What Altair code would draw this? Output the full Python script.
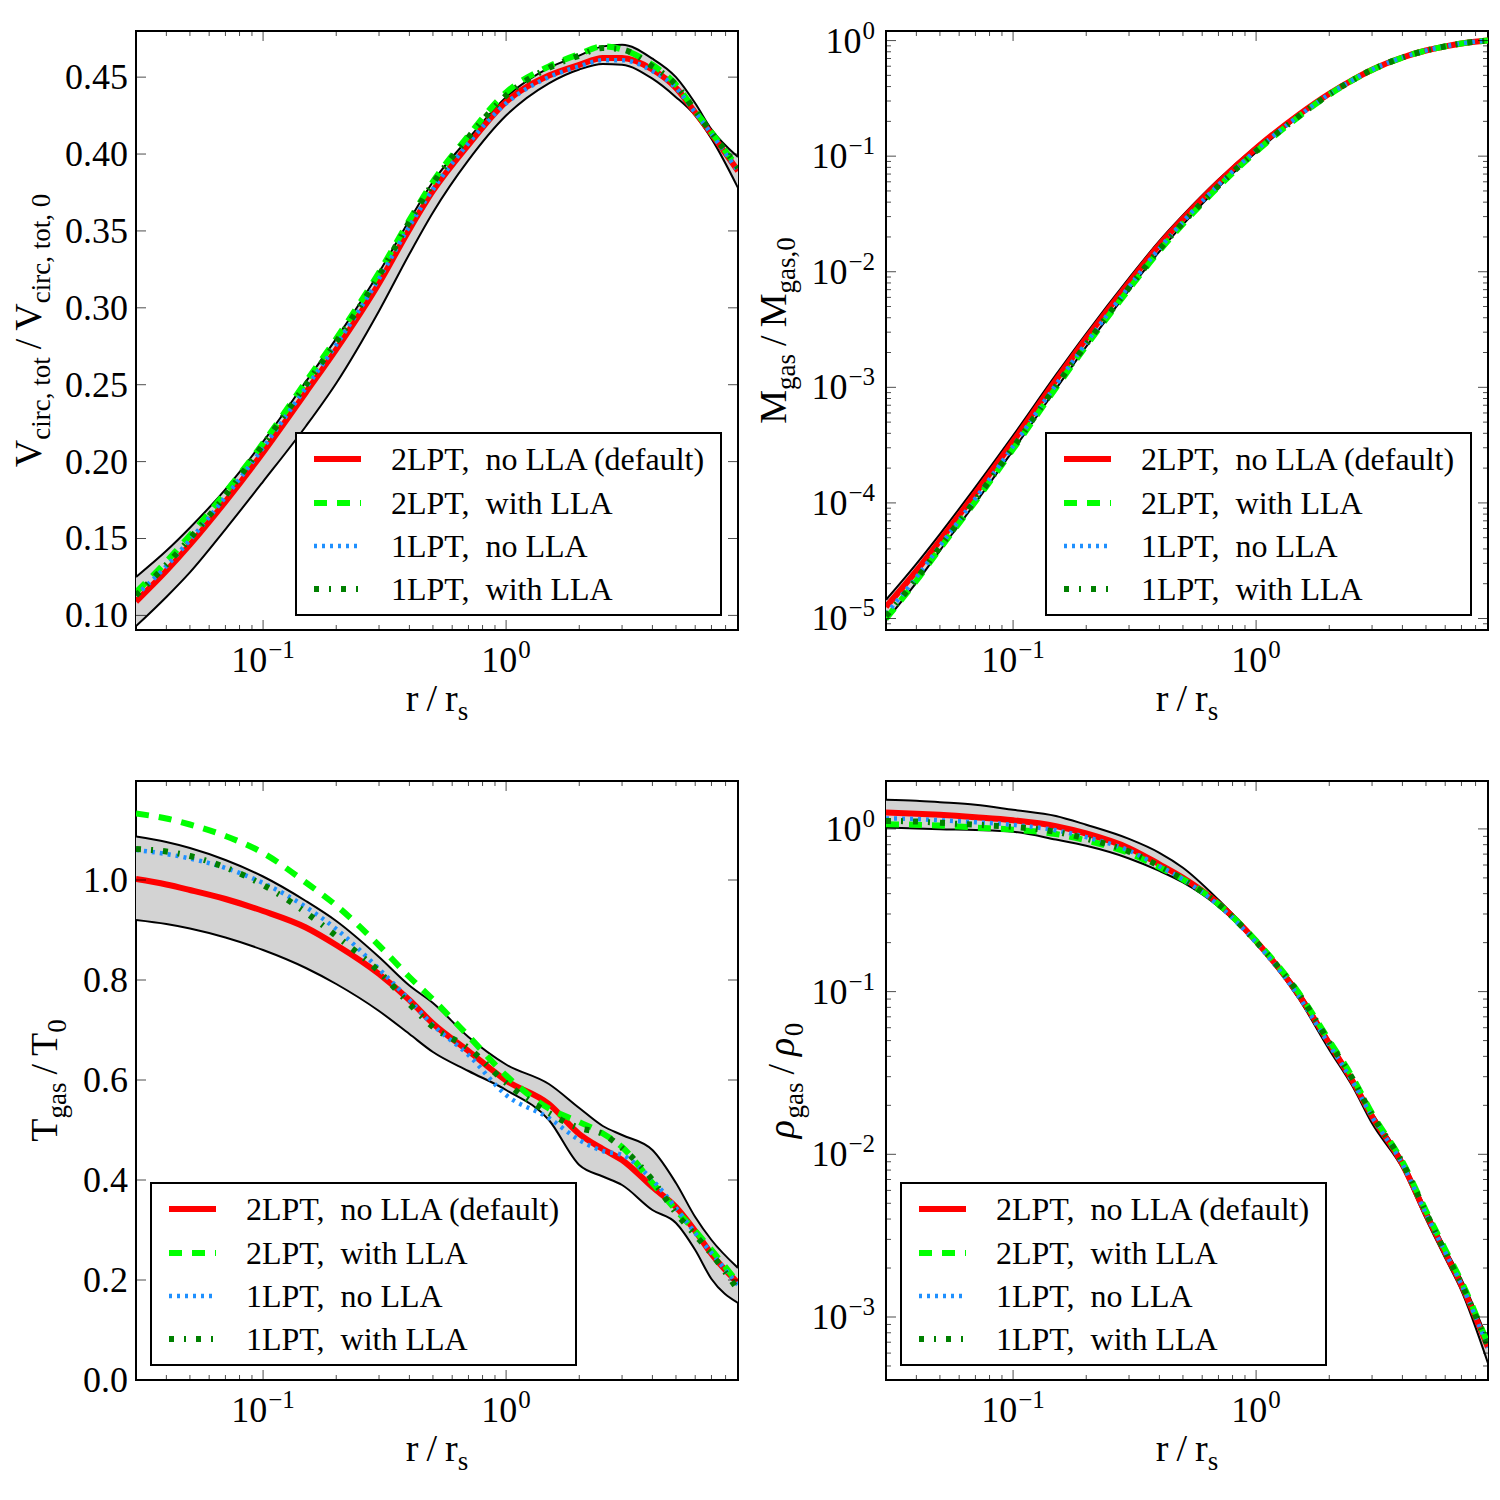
import altair as alt
import pandas as pd

# ---------------- data ----------------
R = [0.03, 0.04, 0.05, 0.07, 0.1, 0.15, 0.2, 0.3, 0.4, 0.5, 0.7, 1.0,
     1.5, 2.0, 2.5, 3.0, 4.0, 5.0, 6.0, 7.0, 9.0]

LABELS = ["2LPT,\u00a0 no LLA (default)", "2LPT,\u00a0 with LLA",
          "1LPT,\u00a0 no LLA", "1LPT,\u00a0 with LLA"]

# Panel 1: circular velocity
V_red = [0.109, 0.129, 0.146, 0.174, 0.206, 0.245, 0.273, 0.316, 0.351, 0.376, 0.406, 0.434,
         0.451, 0.458, 0.4625, 0.4625, 0.455, 0.443, 0.427, 0.413, 0.389]
V_green = [0.115, 0.135, 0.152, 0.180, 0.212, 0.252, 0.280, 0.323, 0.357, 0.382, 0.412, 0.440,
           0.457, 0.465, 0.470, 0.468, 0.458, 0.445, 0.428, 0.414, 0.391]
V_blue = [0.113, 0.132, 0.149, 0.177, 0.209, 0.248, 0.276, 0.319, 0.353, 0.377, 0.407, 0.433,
          0.450, 0.457, 0.461, 0.461, 0.454, 0.443, 0.427, 0.413, 0.389]
V_dkgreen = [0.113, 0.133, 0.150, 0.178, 0.211, 0.250, 0.278, 0.321, 0.356, 0.381, 0.411, 0.438,
             0.456, 0.464, 0.469, 0.468, 0.457, 0.445, 0.428, 0.414, 0.391]
V_hi = [0.125, 0.142, 0.157, 0.182, 0.213, 0.252, 0.280, 0.323, 0.357, 0.382, 0.410, 0.437,
        0.456, 0.464, 0.470, 0.471, 0.462, 0.450, 0.433, 0.416, 0.398]
V_lo = [0.093, 0.112, 0.128, 0.156, 0.187, 0.223, 0.251, 0.298, 0.335, 0.362, 0.396, 0.425,
        0.446, 0.455, 0.4585, 0.458, 0.449, 0.437, 0.425, 0.410, 0.378]

# Panel 2: enclosed gas mass
M_red = [1.26e-5, 2.58e-5, 4.72e-5, 1.21e-4, 3.41e-4, 1.15e-3, 2.65e-3, 8.07e-3, 0.0171, 0.0288,
         0.0594, 0.117, 0.229, 0.347, 0.458, 0.560, 0.714, 0.820, 0.891, 0.944, 1.0]
M_green = [1.0e-5, 2.12e-5, 4.02e-5, 1.03e-4, 2.92e-4, 9.88e-4, 2.29e-3, 7.08e-3, 0.01517, 0.0259,
           0.0543, 0.1094, 0.220, 0.341, 0.455, 0.557, 0.713, 0.820, 0.891, 0.944, 1.0]
M_blue = [1.10e-5, 2.27e-5, 4.25e-5, 1.09e-4, 3.09e-4, 1.05e-3, 2.42e-3, 7.42e-3, 0.0159, 0.0271,
          0.0564, 0.1123, 0.223, 0.344, 0.456, 0.560, 0.714, 0.820, 0.891, 0.944, 1.0]
M_dkgreen = [1.05e-5, 2.19e-5, 4.13e-5, 1.06e-4, 3.0e-4, 1.02e-3, 2.36e-3, 7.26e-3, 0.01556, 0.0265,
             0.0552, 0.111, 0.222, 0.342, 0.456, 0.559, 0.714, 0.820, 0.891, 0.944, 1.0]
M_hi = [1.45e-5, 2.97e-5, 5.38e-5, 1.37e-4, 3.82e-4, 1.28e-3, 2.92e-3, 8.8e-3, 0.01847, 0.0308,
        0.0627, 0.1217, 0.235, 0.352, 0.463, 0.564, 0.718, 0.824, 0.895, 0.947, 1.01]
M_lo = [0.96e-5, 2.04e-5, 3.87e-5, 1.0e-4, 2.85e-4, 0.966e-3, 2.25e-3, 6.94e-3, 0.01496, 0.0256,
        0.0538, 0.108, 0.219, 0.338, 0.451, 0.554, 0.710, 0.816, 0.887, 0.939, 0.99]

# Panel 3: gas temperature
T_red = [1.002, 0.991, 0.980, 0.962, 0.938, 0.905, 0.870, 0.812, 0.760, 0.713, 0.658, 0.599,
         0.552, 0.492, 0.462, 0.440, 0.386, 0.346, 0.298, 0.252, 0.194]
T_green = [1.133, 1.123, 1.111, 1.088, 1.054, 0.995, 0.949, 0.869, 0.806, 0.761, 0.688, 0.609,
           0.543, 0.516, 0.493, 0.466, 0.394, 0.340, 0.298, 0.260, 0.194]
T_blue = [1.060, 1.052, 1.043, 1.024, 0.994, 0.946, 0.902, 0.822, 0.760, 0.710, 0.650, 0.570,
          0.524, 0.480, 0.458, 0.450, 0.400, 0.344, 0.294, 0.254, 0.190]
T_dkgreen = [1.062, 1.057, 1.048, 1.025, 0.990, 0.935, 0.888, 0.817, 0.752, 0.706, 0.664, 0.594,
             0.534, 0.504, 0.492, 0.464, 0.400, 0.334, 0.290, 0.252, 0.180]
T_hi = [1.087, 1.076, 1.064, 1.040, 1.007, 0.958, 0.918, 0.846, 0.789, 0.754, 0.686, 0.631,
        0.592, 0.544, 0.508, 0.490, 0.460, 0.394, 0.326, 0.280, 0.224]
T_lo = [0.920, 0.912, 0.903, 0.885, 0.860, 0.824, 0.792, 0.738, 0.692, 0.656, 0.618, 0.580,
        0.520, 0.430, 0.407, 0.390, 0.340, 0.314, 0.260, 0.202, 0.154]

# Panel 4: gas density
RHO_red = [1.26, 1.24, 1.22, 1.18, 1.13, 1.04, 0.937, 0.762, 0.606, 0.501, 0.348, 0.204,
           0.0953, 0.048, 0.028, 0.0171, 0.0087, 0.0043, 0.00248, 0.00157, 0.00065]
RHO_green = [1.07, 1.06, 1.05, 1.02, 0.99, 0.93, 0.85, 0.71, 0.58, 0.49, 0.345, 0.205,
             0.098, 0.050, 0.0295, 0.0178, 0.0090, 0.0045, 0.0026, 0.00165, 0.00068]
RHO_blue = [1.16, 1.15, 1.13, 1.10, 1.06, 0.98, 0.89, 0.735, 0.59, 0.49, 0.34, 0.200,
            0.093, 0.047, 0.0278, 0.0170, 0.0087, 0.0043, 0.0025, 0.00158, 0.00065]
RHO_dkgreen = [1.12, 1.11, 1.09, 1.06, 1.03, 0.96, 0.87, 0.725, 0.59, 0.49, 0.345, 0.203,
               0.097, 0.049, 0.029, 0.0175, 0.0089, 0.0044, 0.0025, 0.0016, 0.00066]
RHO_hi = [1.51, 1.49, 1.46, 1.41, 1.31, 1.20, 1.06, 0.868, 0.713, 0.577, 0.367, 0.21,
          0.100, 0.050, 0.0292, 0.0180, 0.0092, 0.0046, 0.00265, 0.0017, 0.00072]
RHO_lo = [1.02, 1.005, 0.995, 0.985, 0.96, 0.86, 0.787, 0.658, 0.552, 0.469, 0.333, 0.198,
          0.090, 0.044, 0.026, 0.0155, 0.0082, 0.0040, 0.0023, 0.00145, 0.00052]

# tick values
X_MAJOR = [0.1, 1.0]
X_SUPS = ["\u22121", "0"]
X_MINOR = [0.04, 0.05, 0.06, 0.07, 0.08, 0.09, 0.2, 0.3, 0.4, 0.5, 0.6, 0.7, 0.8, 0.9,
           2, 3, 4, 5, 6, 7, 8]
V_TICKS = [0.10, 0.15, 0.20, 0.25, 0.30, 0.35, 0.40, 0.45]
T_TICKS = [0.0, 0.2, 0.4, 0.6, 0.8, 1.0]
M_MAJOR = [1e-5, 1e-4, 1e-3, 1e-2, 1e-1, 1.0]
M_SUPS = ["\u22125", "\u22124", "\u22123", "\u22122", "\u22121", "0"]
M_MINOR = [8e-6, 9e-6] + [m * 10.0 ** e for e in range(-5, 0) for m in range(2, 10)]
RHO_MAJOR = [1e-3, 1e-2, 1e-1, 1.0]
RHO_SUPS = ["\u22123", "\u22122", "\u22121", "0"]
RHO_MINOR = [5e-4, 6e-4, 7e-4, 8e-4, 9e-4] + [m * 10.0 ** e for e in range(-3, 0) for m in range(2, 10)]

# ---------------- styling ----------------
FONT = "Liberation Serif"
W, H = 602, 599
COLORS = ["#ff0000", "#00ff00", "#1e90ff", "#008000"]
WIDTHS = [6, 6, 4.5, 6]
DASHES = [None, [13, 10], [3, 5], [5, 10, 2, 10]]
LAB_SIZE = 36
SUP_SIZE = 25
TITLE_SIZE = 38
SUB_SIZE = 27
GAP = 8
ONE = pd.DataFrame({"k": [0]})

CW = {" ": .25, "\u00a0": .25, ",": .25, "/": .278, "V": .722, "M": .889, "T": .611,
      "c": .444, "i": .278, "r": .333, "t": .278, "o": .5, "g": .5, "a": .444, "s": .389,
      "\u03c1": .52, "\u2212": .564}


def text_w(s, size):
    return sum(CW.get(ch, 0.5) for ch in s) * size


def piece_w(p):
    return p[1] if p[0] is None else text_w(p[0], p[1])


def txt(s, x, y, size, angle=0, align="left", baseline="alphabetic", italic=False):
    kw = dict(text=s, font=FONT, fontSize=size, color="black", align=align, baseline=baseline)
    if angle:
        kw["angle"] = angle
    if italic:
        kw["fontStyle"] = "italic"
    return alt.Chart(ONE).mark_text(**kw).encode(x=alt.value(x), y=alt.value(y))


def rich(pieces, cx, cy, vertical=False):
    """pieces: (text, size, shift[, italic]) or (None, gap_width)."""
    total = sum(piece_w(p) for p in pieces)
    out, cum = [], 0.0
    for p in pieces:
        if p[0] is not None:
            s, size, shift = p[0], p[1], p[2]
            italic = len(p) > 3 and p[3]
            if vertical:
                out.append(txt(s, cx + shift, cy + total / 2 - cum, size, angle=270, italic=italic))
            else:
                out.append(txt(s, cx - total / 2 + cum, cy + shift, size, italic=italic))
        cum += piece_w(p)
    return out


def panel(series, hi, lo, ydom, ylog, ymajor, yminor, yfmt, ysups, ytitle, ytitle_x, leg_left):
    xs = alt.Scale(type="log", domain=[0.03, 9.0], nice=False)
    if ylog:
        ys = alt.Scale(type="log", domain=ydom, nice=False)
    else:
        ys = alt.Scale(type="linear", domain=ydom, nice=False, zero=False)
    X = lambda f: alt.X(f, scale=xs, axis=None)
    Y = lambda f: alt.Y(f, scale=ys, axis=None)

    band = pd.DataFrame({"r": R, "hi": hi, "lo": lo})
    layers = [alt.Chart(band).mark_area(color="#d3d3d3", clip=True, interpolate="monotone").encode(
        x=X("r:Q"), y=Y("hi:Q"), y2="lo:Q")]
    for col in ("hi", "lo"):
        layers.append(alt.Chart(band).mark_line(color="black", strokeWidth=2, clip=True,
                                                interpolate="monotone").encode(
            x=X("r:Q"), y=Y(col + ":Q")))
    for vals, color, sw, dash in zip(series, COLORS, WIDTHS, DASHES):
        kw = dict(color=color, strokeWidth=sw, clip=True, interpolate="monotone")
        if dash:
            kw["strokeDash"] = dash
        layers.append(alt.Chart(pd.DataFrame({"r": R, "v": vals})).mark_line(**kw).encode(
            x=X("r:Q"), y=Y("v:Q")))

    # inward ticks on all four sides
    for vals, size in ((X_MAJOR, 10), (X_MINOR, 5)):
        df = pd.DataFrame({"v": vals})
        for yy in (H - size / 2, size / 2):
            layers.append(alt.Chart(df).mark_tick(color="black", thickness=1, size=size,
                                                  orient="vertical").encode(
                x=X("v:Q"), y=alt.value(yy)))
    ylists = [(ymajor, 10)] + ([(yminor, 5)] if yminor else [])
    for vals, size in ylists:
        df = pd.DataFrame({"v": vals})
        for xx in (size / 2, W - size / 2):
            layers.append(alt.Chart(df).mark_tick(color="black", thickness=1, size=size,
                                                  orient="horizontal").encode(
                x=alt.value(xx), y=Y("v:Q")))

    # x tick labels 10^-1, 10^0
    for val, sup in zip(X_MAJOR, X_SUPS):
        bw, sw = text_w("10", LAB_SIZE), text_w(sup, SUP_SIZE)
        tot = bw + 1 + sw
        df = pd.DataFrame({"v": [val]})
        layers.append(alt.Chart(df).mark_text(text="10", font=FONT, fontSize=LAB_SIZE, color="black",
                                              align="left", baseline="alphabetic", dx=-tot / 2).encode(
            x=X("v:Q"), y=alt.value(H + 42)))
        layers.append(alt.Chart(df).mark_text(text=sup, font=FONT, fontSize=SUP_SIZE, color="black",
                                              align="left", baseline="alphabetic",
                                              dx=-tot / 2 + bw + 1).encode(
            x=X("v:Q"), y=alt.value(H + 28)))
    # y tick labels
    if ylog:
        for val, sup in zip(ymajor, ysups):
            sw = text_w(sup, SUP_SIZE)
            df = pd.DataFrame({"v": [val]})
            layers.append(alt.Chart(df).mark_text(text="10", font=FONT, fontSize=LAB_SIZE, color="black",
                                                  align="right", baseline="alphabetic", dy=12).encode(
                x=alt.value(-11 - sw - 1), y=Y("v:Q")))
            layers.append(alt.Chart(df).mark_text(text=sup, font=FONT, fontSize=SUP_SIZE, color="black",
                                                  align="right", baseline="alphabetic", dy=-2).encode(
                x=alt.value(-11), y=Y("v:Q")))
    else:
        df = pd.DataFrame({"v": ymajor})
        layers.append(alt.Chart(df).mark_text(font=FONT, fontSize=LAB_SIZE, color="black",
                                              align="right", baseline="alphabetic", dy=12).encode(
            x=alt.value(-8), y=Y("v:Q"), text=alt.Text("v:Q", format=yfmt)))

    # legend
    bx0, by0 = leg_left, 402
    layers.append(alt.Chart(ONE).mark_rect(fill="white", stroke="black", strokeWidth=2).encode(
        x=alt.value(bx0), x2=alt.value(bx0 + 425), y=alt.value(by0), y2=alt.value(by0 + 182)))
    for i, (lab, color, sw, dash) in enumerate(zip(LABELS, COLORS, WIDTHS, DASHES)):
        yc = by0 + [26, 70, 113, 156][i]
        kw = dict(color=color, strokeWidth=sw)
        if dash:
            kw["strokeDash"] = dash
        layers.append(alt.Chart(ONE).mark_rule(**kw).encode(
            x=alt.value(bx0 + 18), x2=alt.value(bx0 + 65), y=alt.value(yc)))
        layers.append(txt(lab, bx0 + 95, yc + 11, 32))

    # axis titles
    layers += rich([("r", TITLE_SIZE, 0), (None, GAP), ("/", TITLE_SIZE, 0), (None, GAP),
                    ("r", TITLE_SIZE, 0), ("s", SUB_SIZE, 9)], W / 2, H + 81)
    layers += rich(ytitle, ytitle_x, H / 2, vertical=True)

    return alt.layer(*layers).properties(width=W, height=H)


def frac_title(sym, sub1, sub2, italic=False):
    return [(sym, TITLE_SIZE, 0, italic), (sub1, SUB_SIZE, 9), (None, GAP), ("/", TITLE_SIZE, 0),
            (None, GAP), (sym, TITLE_SIZE, 0, italic), (sub2, SUB_SIZE, 9)]


p1 = panel([V_red, V_green, V_blue, V_dkgreen], V_hi, V_lo, [0.0905, 0.48], False, V_TICKS, None,
           ".2f", None, frac_title("V", "circ, tot", "circ, tot, 0"), -95, 160)
p2 = panel([M_red, M_green, M_blue, M_dkgreen], M_hi, M_lo, [7.95e-6, 1.21], True, M_MAJOR, M_MINOR,
           None, M_SUPS, frac_title("M", "gas", "gas,0"), -100, 160)
p3 = panel([T_red, T_green, T_blue, T_dkgreen], T_hi, T_lo, [0.0, 1.198], False, T_TICKS, None,
           ".1f", None, frac_title("T", "gas", "0"), -79, 15)
p4 = panel([RHO_red, RHO_green, RHO_blue, RHO_dkgreen], RHO_hi, RHO_lo, [4.1e-4, 1.97], True,
           RHO_MAJOR, RHO_MINOR, None, RHO_SUPS, frac_title("\u03c1", "gas", "0", True), -92, 15)

chart = alt.concat(p1, p2, p3, p4, columns=2,
                   spacing=alt.RowColnumber(row=151, column=148),
                   bounds="flush").properties(
    padding={"left": 10, "top": 17, "right": 5, "bottom": 5}
).configure(font=FONT, view=alt.ViewConfig(stroke="black", strokeWidth=2))

chart.save("out.html", embed_options={"renderer": "svg", "actions": False})
